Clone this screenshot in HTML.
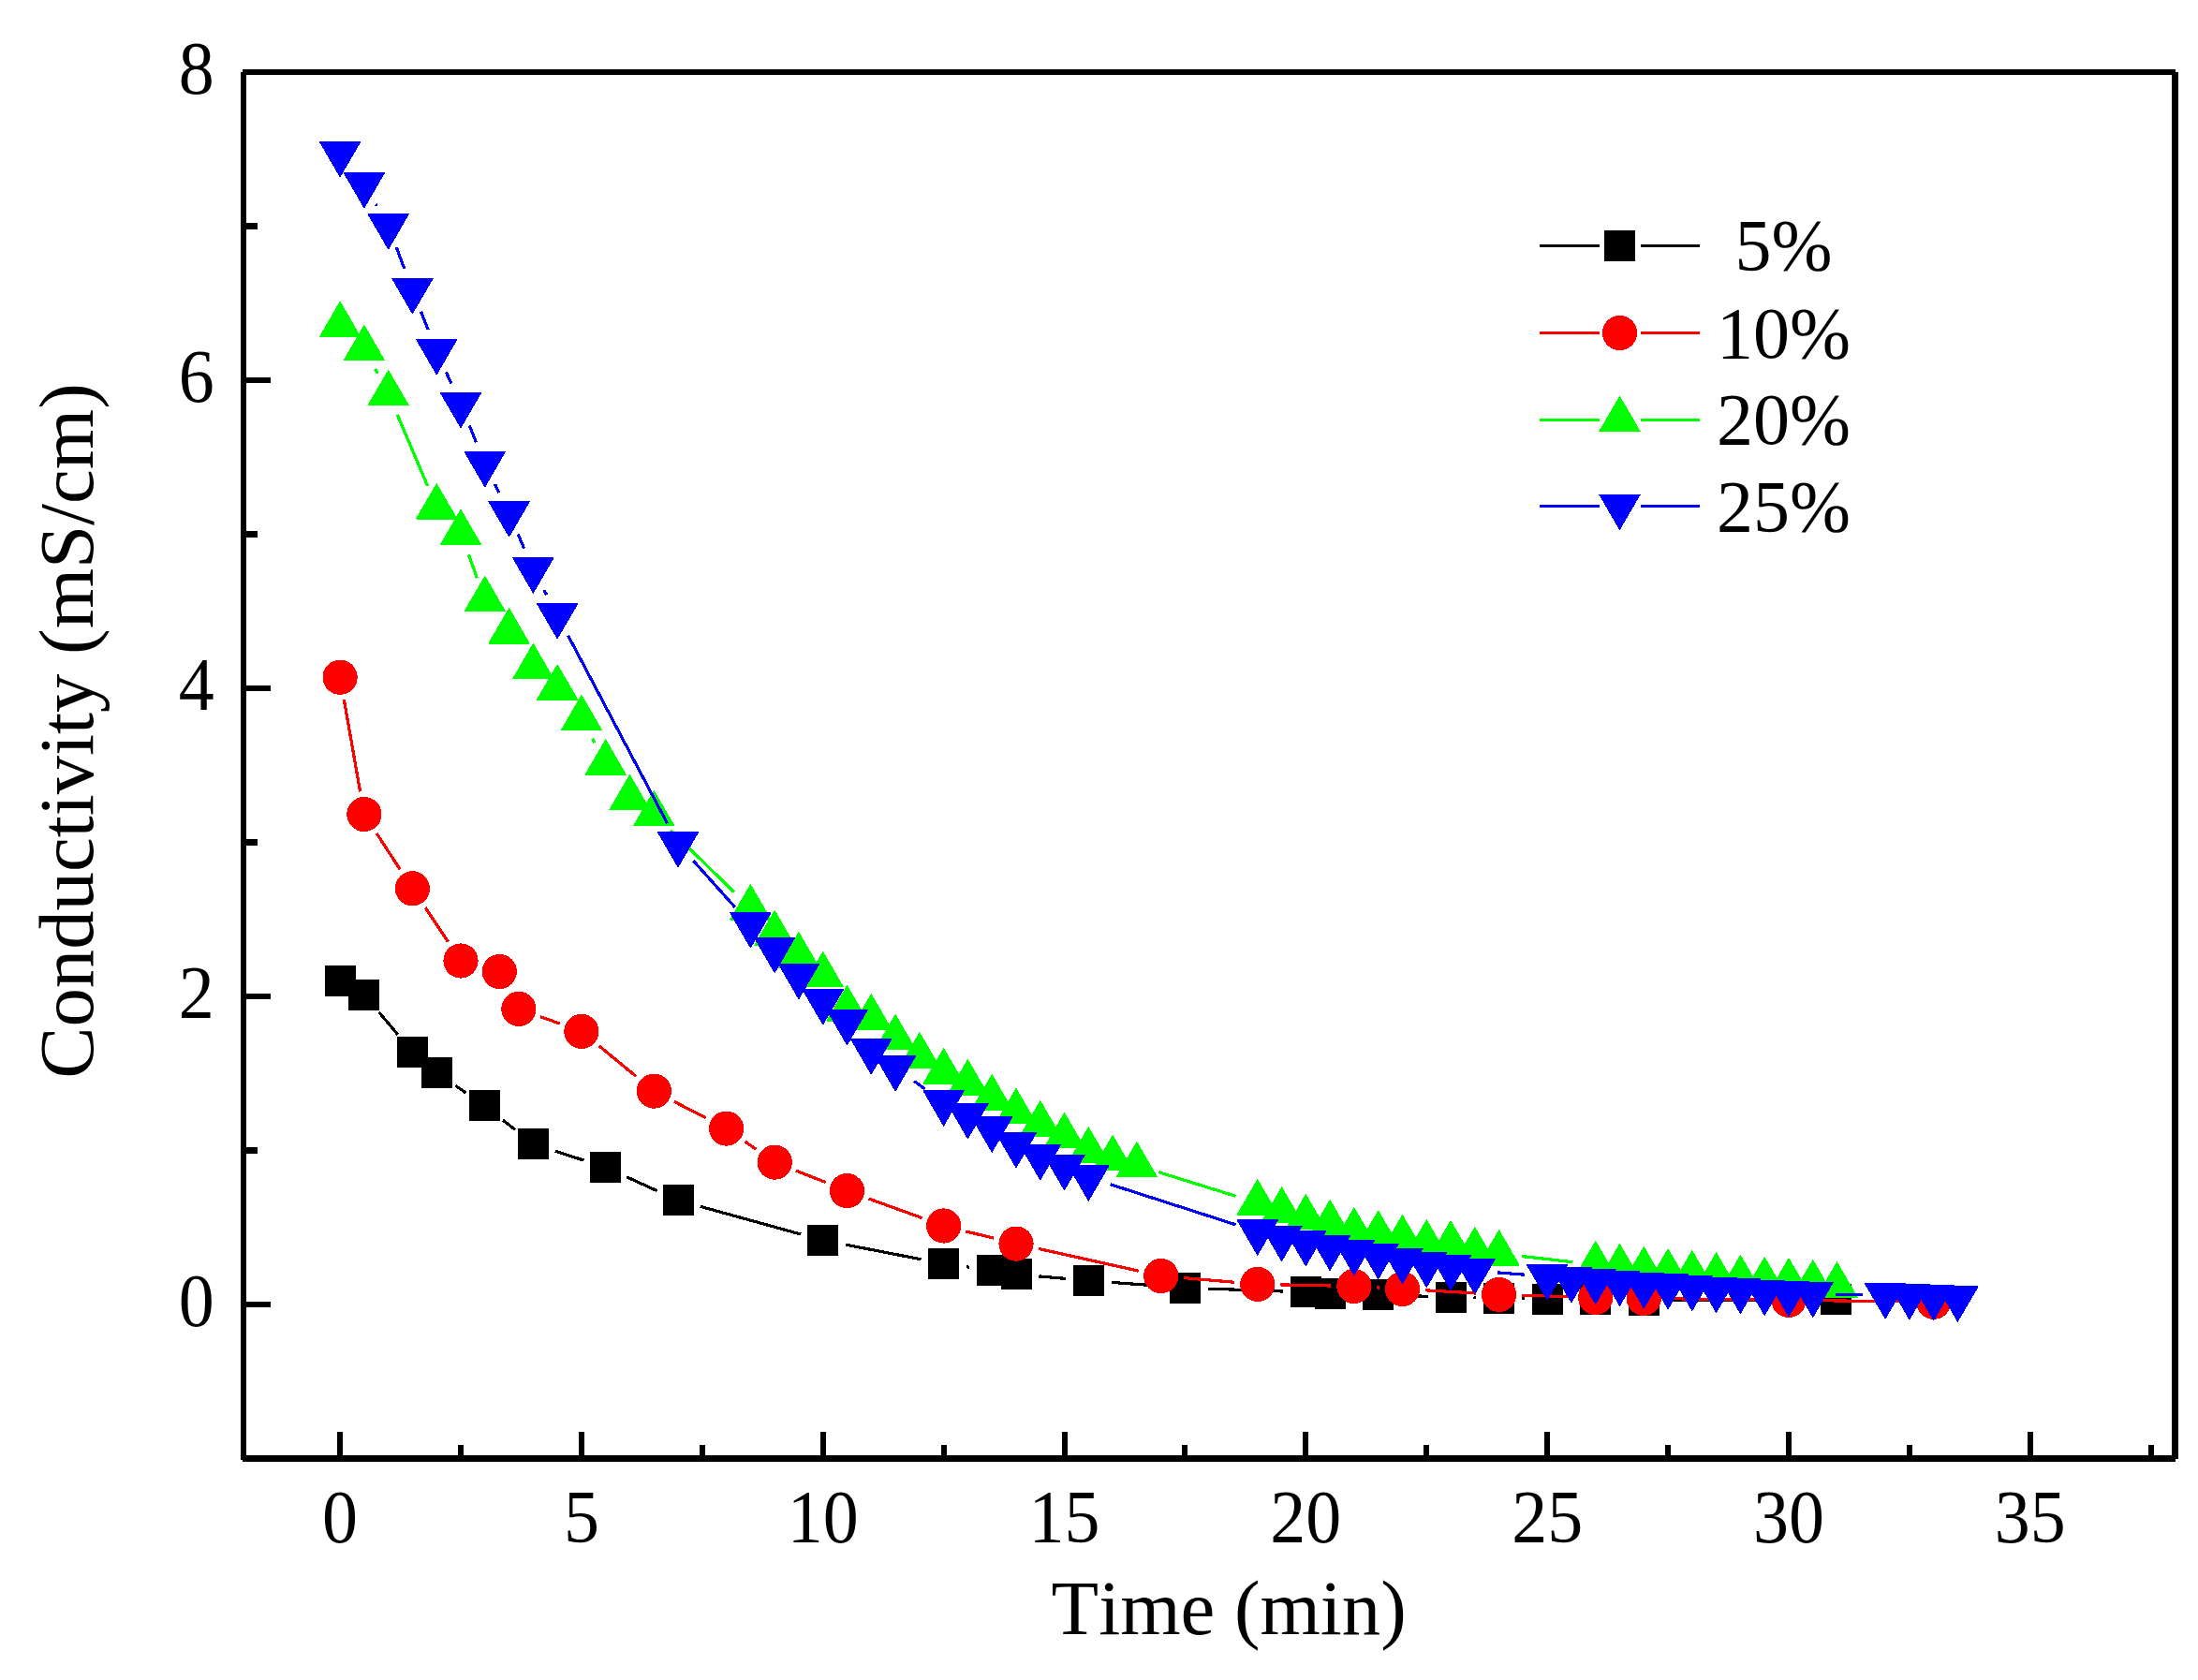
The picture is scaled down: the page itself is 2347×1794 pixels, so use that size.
<!DOCTYPE html>
<html lang="en"><head><meta charset="utf-8"><title>Conductivity vs Time</title>
<style>html,body{margin:0;padding:0;background:#fff}body{width:2347px;height:1794px;overflow:hidden}svg{display:block}</style></head>
<body>
<svg width="2347" height="1794" viewBox="0 0 2347 1794">
<rect width="2347" height="1794" fill="#ffffff"/>
<g shape-rendering="crispEdges">
<path d="M404.6 1080.8L424.7 1104.7M486.4 1159.4L497.6 1167M537 1196.1L550.1 1206.4M592.7 1229.1L623.4 1239.1M669 1256.7L701.7 1271.7M747.7 1288.3L855.1 1318M902.8 1329.1L983.6 1344.8M1031.9 1352.8L1034.9 1353.2M1109.4 1362.9L1137.9 1365.4M1186.8 1369.4L1241 1373.4M1289.9 1376.1L1369.9 1379M1444.6 1381.5L1447.2 1381.6M1496.2 1383.1L1524.6 1384.4M1573.5 1385.8L1576.1 1385.9M1625.1 1386.8L1627.7 1386.9M1676.7 1387.3L1679.2 1387.2M1728.2 1387.7L1730.8 1387.8M1779.8 1388.3L1936.3 1387.7" stroke="#000000" stroke-width="3.2" fill="none"/>
<path d="M346.6 1030.8h33v33h-33zM372.4 1045.5h33v33h-33zM423.9 1107h33v33h-33zM449.7 1129h33v33h-33zM501.3 1164.4h33v33h-33zM552.9 1205.1h33v33h-33zM630.2 1230.1h33v33h-33zM707.5 1265.3h33v33h-33zM862.2 1308h33v33h-33zM991.1 1332.9h33v33h-33zM1042.7 1340.1h33v33h-33zM1068.5 1344.2h33v33h-33zM1145.8 1351.1h33v33h-33zM1248.9 1358.7h33v33h-33zM1377.8 1363.4h33v33h-33zM1403.6 1364.5h33v33h-33zM1455.2 1365.6h33v33h-33zM1532.5 1368.9h33v33h-33zM1584.1 1369.8h33v33h-33zM1635.7 1370.9h33v33h-33zM1687.2 1370.6h33v33h-33zM1738.8 1371.9h33v33h-33zM1944.3 1371.1h33v33h-33z" fill="#000000"/>
<path d="M367.4 747.3L384.6 845.4M402.2 890L427.1 928.3M454.1 969.2L478.4 1005.6M576.9 1085.7L597.8 1093.1M639.8 1117L679.3 1149.5M720 1176.4L753.8 1193.8M795.7 1219.1L807.1 1227.1M850 1250.1L881.7 1262.6M927.5 1280L984.6 1300.6M1031.4 1314.9L1061.2 1322.2M1108.9 1333.4L1215.7 1357.2M1264.1 1364.6L1318.4 1369.3M1367.3 1371.9L1421.4 1373M1470.4 1374.9L1473 1375M1521.9 1377.8L1576.1 1381M1625.1 1383.1L1679.2 1384.8M1728.2 1385.9L1730.8 1386M1779.8 1386.7L1885.5 1388M1934.5 1388.6L2040.2 1390" stroke="#ff0000" stroke-width="3.2" fill="none"/>
<g fill="#ff0000"><circle cx="363.1" cy="723.2" r="18.6"/><circle cx="388.9" cy="869.5" r="18.6"/><circle cx="440.4" cy="948.8" r="18.6"/><circle cx="492" cy="1026" r="18.6"/><circle cx="533.3" cy="1037.5" r="18.6"/><circle cx="553.9" cy="1077.4" r="18.6"/><circle cx="620.9" cy="1101.4" r="18.6"/><circle cx="698.3" cy="1165.1" r="18.6"/><circle cx="775.6" cy="1205.1" r="18.6"/><circle cx="827.2" cy="1241.1" r="18.6"/><circle cx="904.5" cy="1271.6" r="18.6"/><circle cx="1007.6" cy="1309" r="18.6"/><circle cx="1085" cy="1328.1" r="18.6"/><circle cx="1239.7" cy="1362.5" r="18.6"/><circle cx="1342.8" cy="1371.4" r="18.6"/><circle cx="1445.9" cy="1373.5" r="18.6"/><circle cx="1497.5" cy="1376.4" r="18.6"/><circle cx="1600.6" cy="1382.4" r="18.6"/><circle cx="1703.7" cy="1385.5" r="18.6"/><circle cx="1755.3" cy="1386.4" r="18.6"/><circle cx="1910" cy="1388.3" r="18.6"/><circle cx="2064.7" cy="1390.3" r="18.6"/></g>
<path d="M400.5 394L403.1 398.8M424.3 442.9L456.6 519M500.4 592.3L509.4 617.2M632.6 788.9L635 793.2M715.8 886.4L783.8 952.5M1237.3 1251.7L1319.4 1277.3M1624.9 1341.5L1679.4 1347.7" stroke="#00ff00" stroke-width="3.2" fill="none"/>
<path d="M363.1 322.3L384.8 359.6L341.5 359.6zM388.9 347.5L410.5 384.8L367.2 384.8zM414.7 395.5L436.3 432.8L393 432.8zM466.2 516.7L487.9 554L444.6 554zM492 544.4L513.7 581.7L470.4 581.7zM517.8 615.4L539.4 652.7L496.1 652.7zM543.6 649.7L565.2 687L521.9 687zM569.4 687.5L591 724.8L547.7 724.8zM595.1 709.8L616.8 747.1L573.5 747.1zM620.9 742.5L642.6 779.8L599.3 779.8zM646.7 789.9L668.3 827.2L625 827.2zM672.5 827.6L694.1 864.9L650.8 864.9zM698.3 844.5L719.9 881.8L676.6 881.8zM801.4 944.7L823 982L779.7 982zM827.2 972.5L848.8 1009.8L805.5 1009.8zM852.9 995.7L874.6 1033L831.3 1033zM878.7 1016.6L900.4 1053.9L857.1 1053.9zM904.5 1052.7L926.2 1090L882.9 1090zM930.3 1061.8L951.9 1099.1L908.6 1099.1zM956.1 1083.6L977.7 1120.9L934.4 1120.9zM981.9 1102.8L1003.5 1140.1L960.2 1140.1zM1007.6 1119.7L1029.3 1157L986 1157zM1033.4 1131.7L1055.1 1169L1011.8 1169zM1059.2 1147.7L1080.8 1185L1037.5 1185zM1085 1162.5L1106.6 1199.8L1063.3 1199.8zM1110.8 1175.8L1132.4 1213.1L1089.1 1213.1zM1136.5 1188.5L1158.2 1225.8L1114.9 1225.8zM1162.3 1203.9L1184 1241.2L1140.7 1241.2zM1188.1 1212.6L1209.8 1249.9L1166.4 1249.9zM1213.9 1219.6L1235.5 1256.9L1192.2 1256.9zM1342.8 1259.7L1364.4 1297L1321.1 1297zM1368.6 1267.9L1390.2 1305.2L1346.9 1305.2zM1394.3 1275.6L1416 1312.9L1372.7 1312.9zM1420.1 1281.6L1441.8 1318.9L1398.5 1318.9zM1445.9 1289.8L1467.6 1327.1L1424.3 1327.1zM1471.7 1293.1L1493.3 1330.4L1450 1330.4zM1497.5 1297.6L1519.1 1334.9L1475.8 1334.9zM1523.3 1302.9L1544.9 1340.2L1501.6 1340.2zM1549 1303.8L1570.7 1341.1L1527.4 1341.1zM1574.8 1310.7L1596.5 1348L1553.2 1348zM1600.6 1313.8L1622.2 1351.1L1578.9 1351.1zM1703.7 1325.6L1725.4 1362.9L1682.1 1362.9zM1729.5 1328.6L1751.2 1365.9L1707.9 1365.9zM1755.3 1331.6L1776.9 1368.9L1733.6 1368.9zM1781.1 1333.8L1802.7 1371.1L1759.4 1371.1zM1806.8 1335.7L1828.5 1373L1785.2 1373zM1832.6 1337.9L1854.3 1375.2L1811 1375.2zM1858.4 1340.7L1880.1 1378L1836.8 1378zM1884.2 1342.7L1905.8 1380L1862.5 1380zM1910 1343.8L1931.6 1381.1L1888.3 1381.1zM1935.8 1345.6L1957.4 1382.9L1914.1 1382.9zM1961.5 1347.9L1983.2 1385.2L1939.9 1385.2z" fill="#00ff00" stroke="#00ff00" stroke-width="1" stroke-linejoin="round"/>
<path d="M401.2 218.2L402.3 220M423.3 264.1L431.8 287M449.5 332.7L457.2 352.2M476.3 397.2L481.9 409.5M501.3 454.5L508.5 472.3M528.5 517L532.9 526.1M553.2 570.6L559.7 585.7M580.8 629.9L583.7 635.4M606.6 678.7L712.6 879.4M740.4 919.3L785 968.9M976 1154.4L987.7 1162.9M1185.6 1264.7L1319.5 1307.8M1599.2 1358.9L1627.7 1361.2M1960.3 1382.1L1988.6 1382.7" stroke="#0000ff" stroke-width="3.2" fill="none"/>
<path d="M363.1 188.8L384.8 151.5L341.5 151.5zM388.9 221.9L410.5 184.6L367.2 184.6zM414.7 266L436.3 228.7L393 228.7zM440.4 334.8L462.1 297.5L418.8 297.5zM466.2 399.8L487.9 362.5L444.6 362.5zM492 456.7L513.7 419.4L470.4 419.4zM517.8 519.8L539.4 482.5L496.1 482.5zM543.6 573L565.2 535.7L521.9 535.7zM569.4 633.1L591 595.8L547.7 595.8zM595.1 681.9L616.8 644.6L573.5 644.6zM724 925.9L745.7 888.6L702.4 888.6zM801.4 1012L823 974.7L779.7 974.7zM827.2 1038.6L848.8 1001.3L805.5 1001.3zM852.9 1066.7L874.6 1029.4L831.3 1029.4zM878.7 1094L900.4 1056.7L857.1 1056.7zM904.5 1115.8L926.2 1078.5L882.9 1078.5zM930.3 1147L951.9 1109.7L908.6 1109.7zM956.1 1165L977.7 1127.7L934.4 1127.7zM1007.6 1202.1L1029.3 1164.8L986 1164.8zM1033.4 1215.8L1055.1 1178.5L1011.8 1178.5zM1059.2 1230.2L1080.8 1192.9L1037.5 1192.9zM1085 1246.8L1106.6 1209.5L1063.3 1209.5zM1110.8 1259.9L1132.4 1222.6L1089.1 1222.6zM1136.5 1270.8L1158.2 1233.5L1114.9 1233.5zM1162.3 1282.1L1184 1244.8L1140.7 1244.8zM1342.8 1340.2L1364.4 1302.9L1321.1 1302.9zM1368.6 1346.6L1390.2 1309.3L1346.9 1309.3zM1394.3 1351.7L1416 1314.4L1372.7 1314.4zM1420.1 1356.6L1441.8 1319.3L1398.5 1319.3zM1445.9 1361.7L1467.6 1324.4L1424.3 1324.4zM1471.7 1365.7L1493.3 1328.4L1450 1328.4zM1497.5 1370.7L1519.1 1333.4L1475.8 1333.4zM1523.3 1374.6L1544.9 1337.3L1501.6 1337.3zM1549 1377.6L1570.7 1340.3L1527.4 1340.3zM1574.8 1381.7L1596.5 1344.4L1553.2 1344.4zM1652.2 1388.1L1673.8 1350.8L1630.5 1350.8zM1677.9 1390.8L1699.6 1353.5L1656.3 1353.5zM1703.7 1392.5L1725.4 1355.2L1682.1 1355.2zM1729.5 1394.3L1751.2 1357L1707.9 1357zM1755.3 1396.9L1776.9 1359.6L1733.6 1359.6zM1781.1 1397.8L1802.7 1360.5L1759.4 1360.5zM1806.8 1399.6L1828.5 1362.3L1785.2 1362.3zM1832.6 1401.4L1854.3 1364.1L1811 1364.1zM1858.4 1402.5L1880.1 1365.2L1836.8 1365.2zM1884.2 1404.5L1905.8 1367.2L1862.5 1367.2zM1910 1405.8L1931.6 1368.5L1888.3 1368.5zM1935.8 1406.5L1957.4 1369.2L1914.1 1369.2zM2013.1 1408L2034.8 1370.7L1991.4 1370.7zM2038.9 1408.9L2060.5 1371.6L2017.2 1371.6zM2064.7 1409.8L2086.3 1372.5L2043 1372.5zM2090.4 1411.1L2112.1 1373.8L2068.8 1373.8z" fill="#0000ff" stroke="#0000ff" stroke-width="1" stroke-linejoin="round"/>
<path d="M1644 262.4H1708M1752 262.4H1815" stroke="#000000" stroke-width="3" fill="none"/>
<path d="M1713 245.9h33v33h-33z" fill="#000000"/>
<path d="M1644 355.5H1708M1752 355.5H1815" stroke="#ff0000" stroke-width="3" fill="none"/>
<g fill="#ff0000"><circle cx="1729.5" cy="355.5" r="18.6"/></g>
<path d="M1644 448.3H1708M1752 448.3H1815" stroke="#00ff00" stroke-width="3" fill="none"/>
<path d="M1729.5 423.4L1751.2 460.7L1707.8 460.7z" fill="#00ff00" stroke="#00ff00" stroke-width="1" stroke-linejoin="round"/>
<path d="M1644 540.5H1708M1752 540.5H1815" stroke="#0000ff" stroke-width="3" fill="none"/>
<path d="M1729.5 565.4L1751.2 528.1L1707.8 528.1z" fill="#0000ff" stroke="#0000ff" stroke-width="1" stroke-linejoin="round"/>
<path d="M259 74H2323V80H259zM257 77H263V1558.5H257zM259 1554H2323V1561H259zM2319 77H2326V1558H2319zM260 1390H289V1396H260zM260 1061H289V1067H260zM260 732H289V738H260zM260 403H289V409H260zM260 1225H275V1232H260zM260 896H275V903H260zM260 567H275V574H260zM260 238H275V245H260zM360.1 1529H366.1V1557H360.1zM617.9 1529H623.9V1557H617.9zM875.7 1529H881.7V1557H875.7zM1133.5 1529H1139.5V1557H1133.5zM1391.3 1529H1397.3V1557H1391.3zM1649.2 1529H1655.2V1557H1649.2zM1907 1529H1913V1557H1907zM2164.8 1529H2170.8V1557H2164.8zM489 1543H495V1557H489zM746.8 1543H752.8V1557H746.8zM1004.6 1543H1010.6V1557H1004.6zM1262.4 1543H1268.4V1557H1262.4zM1520.3 1543H1526.3V1557H1520.3zM1778.1 1543H1784.1V1557H1778.1zM2035.9 1543H2041.9V1557H2035.9zM2293.7 1543H2299.7V1557H2293.7z" fill="#000"/>
</g>
<g font-family="'Liberation Serif', 'Times New Roman', serif" fill="#000" style="font-kerning:none;font-variant-ligatures:none">
<g font-size="80" text-anchor="end">
<text transform="translate(228.8 1415.5) scale(0.95 1)">0</text>
<text transform="translate(228.8 1086.5) scale(0.95 1)">2</text>
<text transform="translate(228.8 757.5) scale(0.95 1)">4</text>
<text transform="translate(228.8 428.5) scale(0.95 1)">6</text>
<text transform="translate(228.8 99.5) scale(0.95 1)">8</text>
</g>
<g font-size="80" text-anchor="middle">
<text transform="translate(363.1 1647.3) scale(0.95 1)">0</text>
<text transform="translate(620.9 1647.3) scale(0.95 1)">5</text>
<text transform="translate(878.7 1647.3) scale(0.95 1)">10</text>
<text transform="translate(1136.5 1647.3) scale(0.95 1)">15</text>
<text transform="translate(1394.3 1647.3) scale(0.95 1)">20</text>
<text transform="translate(1652.2 1647.3) scale(0.95 1)">25</text>
<text transform="translate(1910 1647.3) scale(0.95 1)">30</text>
<text transform="translate(2167.8 1647.3) scale(0.95 1)">35</text>
</g>
<g font-size="78" text-anchor="middle">
<text x="1904.5" y="288.4">5%</text>
<text x="1904.5" y="381.5">10%</text>
<text x="1904.5" y="474.3">20%</text>
<text x="1904.5" y="566.5">25%</text>
</g>
<text font-size="82.75" text-anchor="middle" x="1312.2" y="1745">Time (min)</text>
<text font-size="82.75" text-anchor="middle" transform="translate(99 780.5) rotate(-90)">Conductivity (mS/cm)</text>
</g>
</svg>
</body></html>
